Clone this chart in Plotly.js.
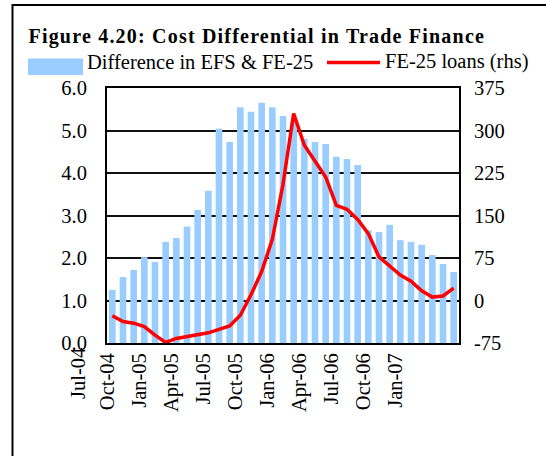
<!DOCTYPE html>
<html>
<head>
<meta charset="utf-8">
<script src="https://cdn.plot.ly/plotly-3.0.1.min.js"></script>
<style>
  html, body { margin: 0; padding: 0; background: #fff; }
  #chart { width: 546px; height: 456px; }
  .gtitle { letter-spacing: 1.2px; }
</style>
</head>
<body>
<div id="chart"></div>
<script>
// Categories (monthly)
const months = ['Oct-04','Nov-04','Dec-04','Jan-05','Feb-05','Mar-05','Apr-05','May-05','Jun-05',
  'Jul-05','Aug-05','Sep-05','Oct-05','Nov-05','Dec-05','Jan-06','Feb-06','Mar-06','Apr-06',
  'May-06','Jun-06','Jul-06','Aug-06','Sep-06','Oct-06','Nov-06','Dec-06','Jan-07','Feb-07',
  'Mar-07','Apr-07','May-07','Jun-07'];

// Difference in EFS & FE-25 (left axis)
const diffEFS = [1.25,1.55,1.72,2.02,1.91,2.38,2.47,2.74,3.13,3.58,5.04,4.73,5.55,5.44,5.65,5.55,
  5.34,5.20,4.80,4.73,4.68,4.38,4.33,4.19,2.65,2.61,2.78,2.42,2.38,2.31,2.07,1.86,1.67];

// FE-25 loans (right axis)
const fe25Loans = [-27,-37,-40,-46,-61,-74,-67,-64,-60,-57,-51,-45,-26,10,51,108,205,330,274,245,
  218,168,161,143,118,77,61,45,34,17,6,8,22];

// Tick labels
const xTickLabels = ['Oct-04','Jan-05','Apr-05','Jul-05','Oct-05','Jan-06','Apr-06','Jul-06','Oct-06','Jan-07'];
const extraLeftLabel = 'Jul-04';
const leftTicks = [0,1,2,3,4,5,6];
const leftTickText = ['0.0','1.0','2.0','3.0','4.0','5.0','6.0'];
const rightTicks = [-75,0,75,150,225,300,375];
const rightTickText = ['-75','0','75','150','225','300','375'];

const titleText = 'Figure 4.20: Cost Differential in Trade Finance';
const seriesNames = ['Difference in EFS & FE-25', 'FE-25 loans (rhs)'];

const xIdx = months.map((m, i) => i);
const tickvals = xTickLabels.map(l => months.indexOf(l) - 0.5);

const FONT = 'Liberation Serif, Times New Roman, serif';

const traces = [
  {
    type: 'bar', x: xIdx, y: diffEFS, name: seriesNames[0], text: months,
    marker: { color: '#99CCFF' }, showlegend: false, hoverinfo: 'text+y', textposition: 'none'
  },
  {
    type: 'scatter', mode: 'lines', x: xIdx, y: fe25Loans, name: seriesNames[1], text: months,
    yaxis: 'y2', line: { color: '#FF0000', width: 3.5 }, showlegend: false, hoverinfo: 'text+y'
  }
];

// plot area in px: x 107-459, y 88-343
const PX = v => (v - 107) / 352;
const PY = v => (343 - v) / 255;

const layout = {
  width: 546, height: 456,
  margin: { l: 107, r: 87, t: 88, b: 113 },
  paper_bgcolor: '#fff', plot_bgcolor: '#fff',
  font: { family: FONT, size: 20.5, color: '#000' },
  bargap: 0.38,
  title: {
    text: '<b>' + titleText + '</b>',
    font: { family: FONT, size: 20, color: '#000' },
    xref: 'container', x: 28.5 / 546, xanchor: 'left',
    yref: 'container', y: 1 - 36 / 456, yanchor: 'middle'
  },
  xaxis: {
    range: [-0.5, months.length - 0.5],
    tickvals: tickvals, ticktext: xTickLabels, tickangle: -90,
    ticks: '', showgrid: false, zeroline: false,
    showline: true, linecolor: '#000', linewidth: 2, mirror: true,
    tickfont: { family: FONT, size: 20.5, color: '#000' }
  },
  yaxis: {
    range: [0, 6], tickvals: leftTicks, ticktext: leftTickText,
    ticks: '', ticklabelstandoff: 14,
    showgrid: true, gridcolor: '#111', gridwidth: 2, zeroline: false,
    showline: true, linecolor: '#000', linewidth: 2, mirror: true,
    tickfont: { family: FONT, size: 20.5, color: '#000' }
  },
  yaxis2: {
    range: [-75, 375], tickvals: rightTicks, ticktext: rightTickText, overlaying: 'y', side: 'right',
    ticks: '', ticklabelstandoff: 14,
    showgrid: false, zeroline: false, showline: false,
    tickfont: { family: FONT, size: 20.5, color: '#000' }
  },
  shapes: [
    // outer frame
    { type: 'rect', xref: 'paper', yref: 'paper', x0: PX(12.5), x1: PX(552), y0: PY(462), y1: PY(5),
      line: { color: '#000', width: 2 }, fillcolor: 'rgba(0,0,0,0)' },
    // legend swatch: bars
    { type: 'rect', xref: 'paper', yref: 'paper', x0: PX(28), x1: PX(83), y0: PY(75), y1: PY(58.5),
      line: { width: 0 }, fillcolor: '#99CCFF' },
    // legend swatch: line
    { type: 'line', xref: 'paper', yref: 'paper', x0: PX(327), x1: PX(380), y0: PY(62.5), y1: PY(62.5),
      line: { color: '#FF0000', width: 3.5 } }
  ],
  annotations: [
    { xref: 'paper', yref: 'paper', x: PX(85), y: PY(62), xanchor: 'left', yanchor: 'middle',
      text: seriesNames[0], showarrow: false, font: { family: FONT, size: 20.5, color: '#000' } },
    { xref: 'paper', yref: 'paper', x: PX(383), y: PY(62), xanchor: 'left', yanchor: 'middle',
      text: seriesNames[1], showarrow: false, font: { family: FONT, size: 20.5, color: '#000' } },
    { xref: 'paper', yref: 'paper', x: PX(77.5), y: PY(346), xanchor: 'center', yanchor: 'top',
      text: extraLeftLabel, textangle: -90, showarrow: false,
      font: { family: FONT, size: 20.5, color: '#000' } }
  ]
};

Plotly.newPlot('chart', traces, layout, { displayModeBar: false, staticPlot: true });
</script>
</body>
</html>
